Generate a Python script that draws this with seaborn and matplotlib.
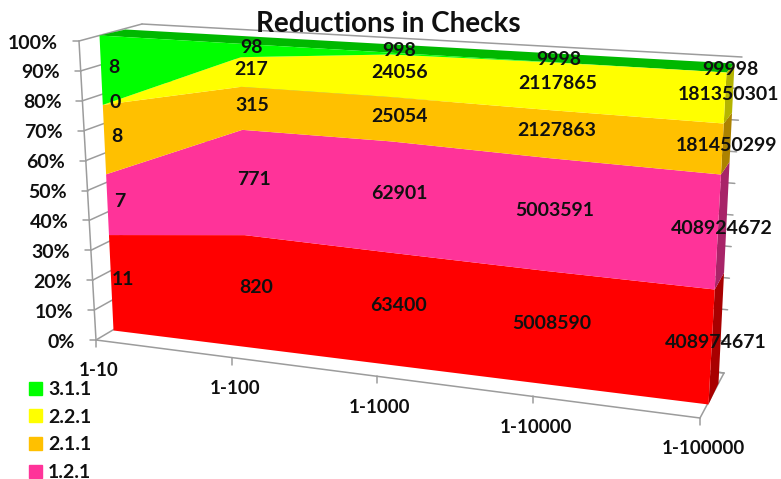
import matplotlib
matplotlib.use("Agg")
import matplotlib.pyplot as plt
import numpy as np
import seaborn as sns
from matplotlib.patches import Patch
from matplotlib.transforms import Transform

categories = ["1-10", "1-100", "1-1000", "1-10000", "1-100000"]
series_names = ["1.1.1", "1.2.1", "2.1.1", "2.2.1", "3.1.1"]
s_111 = [11, 820, 63400, 5008590, 408974671]
s_121 = [7, 771, 62901, 5003591, 408924672]
s_211 = [8, 315, 25054, 2127863, 181450299]
s_221 = [0, 217, 24056, 2117865, 181350301]
s_311 = [8, 98, 998, 9998, 99998]
pct_ticks = [0, 10, 20, 30, 40, 50, 60, 70, 80, 90, 100]

front_colors = ["#FF0000", "#FF3399", "#FFC000", "#FFFF00", "#00FF00"]
side_colors = ["#A80000", "#A82468", "#AC8200", "#B4B400", "#00A800"]
top_color = "#00B800"
line_color = "#9C9C9C"
warp = 1.15


class Quad(Transform):
    # maps a flat (x, y) plane onto a drawn quadrilateral, corners are in picture pixels
    input_dims = 2
    output_dims = 2

    def __init__(self, p00, p10, p01, p11, xmax=1.0, ymax=1.0, r=1.0):
        super().__init__()
        self.p = np.array([p00, p10, p01, p11], dtype=float)
        self.xmax = xmax
        self.ymax = ymax
        self.r = r

    def transform_non_affine(self, values):
        values = np.asarray(values, dtype=float)
        u = values[:, 0] / self.xmax
        v = values[:, 1] / self.ymax
        u = (u / self.r) / (1 - u + u / self.r)
        w = np.column_stack([(1 - u) * (1 - v), u * (1 - v), (1 - u) * v, u * v])
        return w @ self.p


sns.set_theme(style="white")
plt.rcParams["font.family"] = ["Lato", "DejaVu Sans"]
plt.rcParams["font.weight"] = "bold"

fig = plt.figure(figsize=(7.81, 4.79), dpi=100)
ax = fig.add_axes([0, 0, 1, 1])
px = ax.transData
n = len(categories) - 1
cat_x = np.arange(len(categories))

values = np.array([s_111, s_121, s_211, s_221, s_311], dtype=float)
shares = values / values.sum(axis=0) * 100
tops = shares.cumsum(axis=0)
bottoms = tops - shares

# planes of the 3d box
front = Quad((113, 330), (708, 404), (99, 35), (726, 72), xmax=n, ymax=100, r=warp) + px
side = Quad((708, 404), (718, 383), (726, 72), (734, 63), ymax=100) + px
top = Quad((99, 35), (726, 72), (125, 29), (734, 63), xmax=n, r=warp) + px
middle = Quad((125, 327), (713, 400), (112, 33), (730, 69), xmax=n, ymax=100, r=warp) + px
back_wall = Quad((155, 305), (724, 373), (142, 24), (742, 57), xmax=n, ymax=100, r=warp) + px
left_wall = Quad((96, 340), (155, 305), (79, 41), (142, 24), ymax=100) + px
floor = Quad((96, 340), (700, 418), (155, 305), (724, 373), xmax=n, r=warp) + px
y_ticks = Quad((90, 340), (96, 340), (73, 41), (79, 41), ymax=100) + px
x_ticks = Quad((96, 340), (700, 418), (96, 347), (700, 425), xmax=n, r=warp) + px

# walls and axes
for p in pct_ticks:
    sns.lineplot(x=[0, n], y=[p, p], color=line_color, lw=1.1, transform=back_wall, ax=ax, zorder=1)
    sns.lineplot(x=[0, 1], y=[p, p], color=line_color, lw=1.1, transform=left_wall, ax=ax, zorder=1)
    sns.lineplot(x=[0, 1], y=[p, p], color=line_color, lw=1.1, transform=y_ticks, ax=ax, zorder=1)
    ax.annotate(f"{p}%", xy=(0, p), xycoords=y_ticks, xytext=(-15, -2), textcoords="offset pixels",
                ha="right", va="center", fontsize=14, color="#101010")
ax.plot([0, 0], [0, 100], color=line_color, lw=1.1, transform=left_wall, zorder=1)
ax.plot([0, n], [0, 0], color=line_color, lw=1.1, transform=floor, zorder=1)
ax.plot([n, n], [0, 1], color=line_color, lw=1.1, transform=floor, zorder=1)
ax.plot([0, n], [1, 1], color=line_color, lw=1.1, transform=floor, zorder=1)
for i, name in enumerate(categories):
    ax.plot([i, i], [0, 1], color=line_color, lw=1.1, transform=x_ticks, zorder=1)
    ax.annotate(name, xy=(i, 0), xycoords=floor, xytext=(3, -31), textcoords="offset pixels",
                ha="center", va="center", fontsize=13.5, color="#101010")

# the stacked areas: right side, top, front
for i in range(len(series_names)):
    ax.fill_between([0, 1], bottoms[i, -1], tops[i, -1], color=side_colors[i], lw=0, transform=side, zorder=2)
ax.fill_between(cat_x, 0, 1, color=top_color, lw=0, transform=top, zorder=3)
handles = []
for i, name in enumerate(series_names):
    ax.fill_between(cat_x, bottoms[i], tops[i], color=front_colors[i], lw=0, transform=front, zorder=4)
    handles.append(Patch(color=front_colors[i], label=name))

# data labels sit in the middle of each band, half way into the depth
for i in range(len(series_names)):
    for j in range(len(categories)):
        ax.text(j, bottoms[i, j] + shares[i, j] / 2, f"{values[i, j]:.0f}", transform=middle,
                ha="center", va="center", fontsize=14, color="#101010", zorder=6)

ax.text(388, 24, "Reductions in Checks", ha="center", va="center", fontsize=20, color="#101010", zorder=6)

ax.legend(handles=handles[:0:-1], loc="upper left", bbox_to_anchor=(29 / 781, 1 - 381 / 479), frameon=False,
          fontsize=14, handlelength=0.67, handleheight=0.67, labelspacing=0.55, handletextpad=0.32,
          borderpad=0, borderaxespad=0, labelcolor="#101010")

ax.set_xlim(0, 781)
ax.set_ylim(479, 0)
ax.set_axis_off()
fig.savefig("out.png", dpi=100)
